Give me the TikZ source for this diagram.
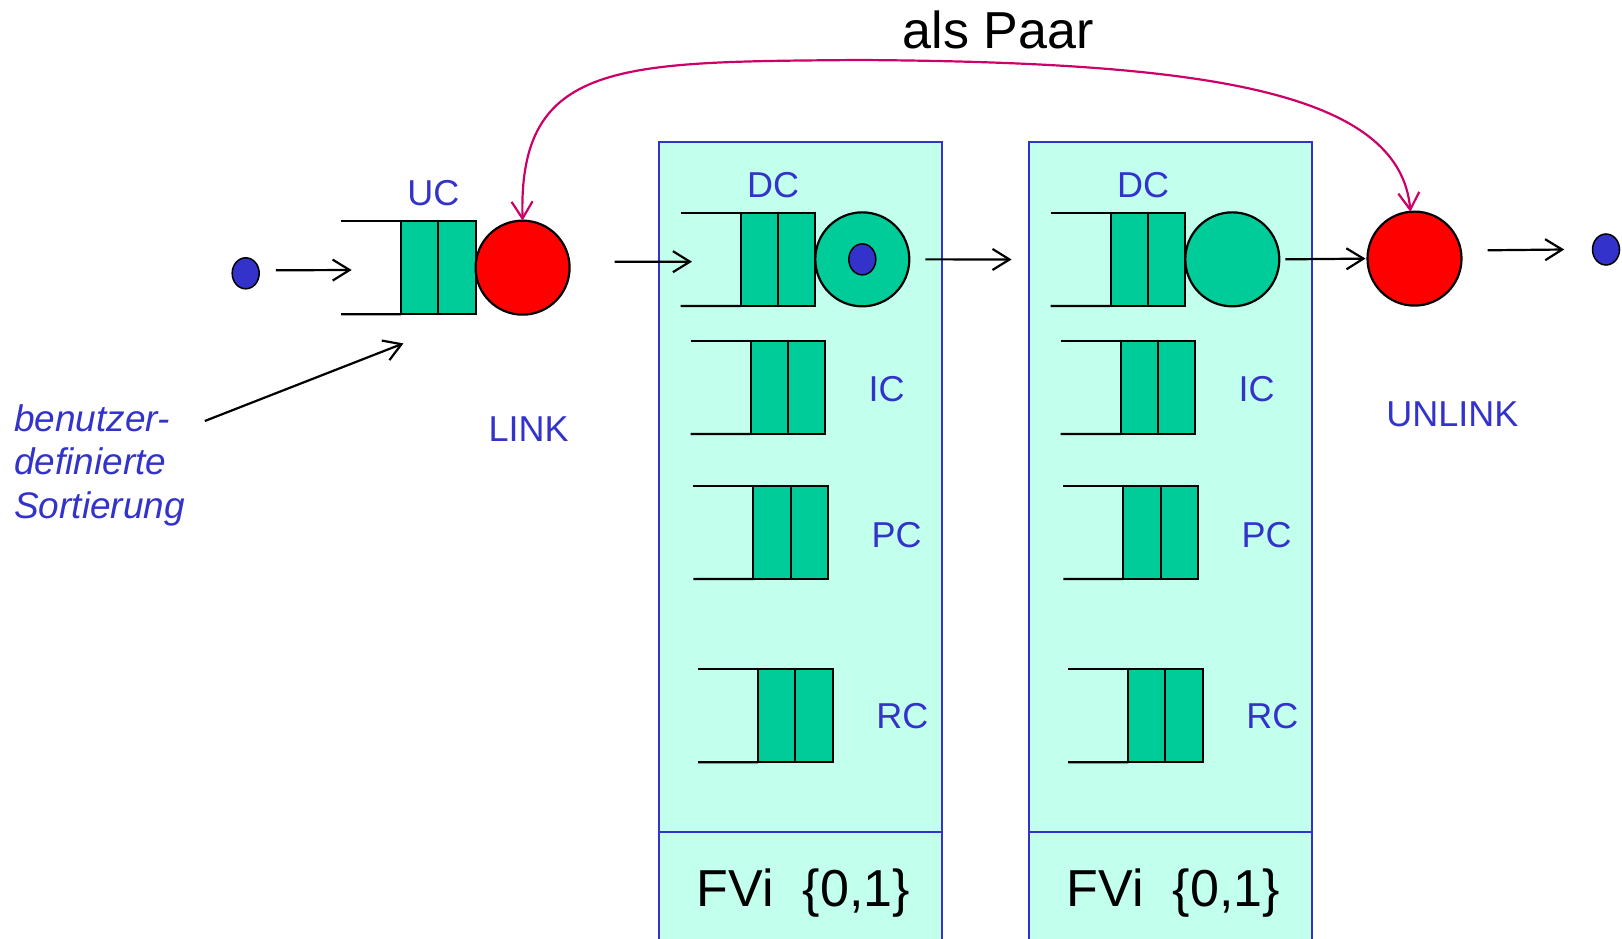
\documentclass[tikz,border=0pt]{standalone}
\usepackage{fontspec}
\setmainfont{Liberation Sans}
\usetikzlibrary{arrows.meta,shapes.geometric}

\definecolor{qgreen}{RGB}{0,204,153}
\definecolor{panefill}{RGB}{194,255,236}
\definecolor{ink}{RGB}{51,51,204}
\definecolor{pairpink}{RGB}{204,0,102}

% a waiting queue: two open rails and two filled cells
% #1 name prefix, #2 left x, #3 top y
\newcommand{\waitq}[3]{%
  \coordinate (#1-t) at ({#2},{#3});
  \coordinate (#1-b) at ({#2},{#3+93.3});
  \node[cell, anchor=north west] (#1-a) at ({#2+60},{#3}) {};
  \node[cell, anchor=north west] (#1-c) at (#1-a.north east) {};
  \draw[qline] (#1-t) -- (#1-a.north west);
  \draw[qline] (#1-b) -- (#1-a.south west);
}

\begin{document}
\begin{tikzpicture}[x=1pt,y=-1pt,
  cell/.style={draw=black, line width=2.2pt, fill=qgreen, minimum width=37.3pt,
    minimum height=93.3pt, inner sep=0pt, outer sep=0pt},
  qline/.style={draw=black, line width=2.2pt},
  server/.style={circle, draw=black, line width=2.2pt, minimum size=94pt,
    inner sep=0pt, outer sep=0pt},
  token/.style={ellipse, draw=black, line width=1.5pt, fill=ink,
    minimum width=27pt, minimum height=31pt, inner sep=0pt},
  pane/.style={draw=ink, line width=2pt, fill=panefill, inner sep=0pt, outer sep=0pt},
  flow/.style={draw=black, line width=2.2pt, -{Straight Barb[length=17pt,width=21pt]}},
  pair/.style={draw=pairpink, line width=2.2pt,
    {Straight Barb[length=17pt,width=21pt]}-{Straight Barb[length=17pt,width=21pt]}},
  lbl/.style={text=ink, font=\fontsize{36}{43}\selectfont, inner sep=0pt, anchor=base},
  big/.style={text=black, font=\fontsize{52}{60}\selectfont, inner sep=0pt, anchor=base},
  note/.style={text=ink, font=\fontsize{37}{43}\selectfont\itshape, inner sep=0pt, anchor=base west}
]
\useasboundingbox (0,0) rectangle (1622,939);
\clip (0,0) rectangle (1622,939);
\fill[white] (0,0) rectangle (1622,939);

% the two FVi panes
\node[pane, anchor=north west, minimum width=282.5pt, minimum height=820pt] (pane1) at (659,142) {};
\node[pane, anchor=north west, minimum width=282.5pt, minimum height=820pt] (pane2) at (1029,142) {};
\draw[draw=ink, line width=2pt] (659,832) -- (941.5,832);
\draw[draw=ink, line width=2pt] (1029,832) -- (1311.5,832);
\node[big] (fvi1) at (803.3,906) {FVi~~\{0,1\}};
\node[big] (fvi2) at (1173.3,906) {FVi~~\{0,1\}};

% queues
\waitq{uc}{341}{221}
\waitq{dc1}{680.7}{212.7}
\waitq{ic1}{690.7}{340.7}
\waitq{pc1}{693.3}{485.7}
\waitq{rc1}{698}{669}
\waitq{dc2}{1050.7}{212.7}
\waitq{ic2}{1060.7}{340.7}
\waitq{pc2}{1063.3}{485.7}
\waitq{rc2}{1068}{669}

% servers
\node[server, fill=red, anchor=west] (link) at (uc-c.east) {};
\node[server, fill=qgreen, anchor=west] (srv1) at (dc1-c.east) {};
\node[server, fill=qgreen, anchor=west] (srv2) at (dc2-c.east) {};
\node[server, fill=red] (unlink) at (1414.5,258.6) {};

% tokens
\node[token] (src) at (245.7,273.3) {};
\node[token] (busy) at (srv1.center) {};
\node[token] (sink) at (1606,249.5) {};

% labels
\node[lbl] (uclbl) at (433.4,205.3) {UC};
\node[lbl] (dclbl1) at (773,197.8) {DC};
\node[lbl] (dclbl2) at (1143,197.8) {DC};
\node[lbl] (iclbl1) at (886.7,401) {IC};
\node[lbl] (iclbl2) at (1256.7,401) {IC};
\node[lbl] (pclbl1) at (896.7,547.3) {PC};
\node[lbl] (pclbl2) at (1266.7,547.3) {PC};
\node[lbl] (rclbl1) at (902.3,728.7) {RC};
\node[lbl] (rclbl2) at (1272.3,728.7) {RC};
\node[lbl] (linklbl) at (528.6,441) {LINK};
\node[lbl] (unlinklbl) at (1452.3,426.7) {UNLINK};
\node[big] (pairlbl) at (998,48.5) {als Paar};
\node[note] (note1) at (14,431) {benutzer-};
\node[note] (note2) at (14,474.5) {definierte};
\node[note] (note3) at (14,518) {Sortierung};

% flow arrows
\coordinate (ucin) at (351.7,270);
\coordinate (in1) at (692,261.7);
\coordinate (in2) at (1011.6,259.5);
\coordinate (sortfrom) at (204.8,421);
\coordinate (sortto) at (403.4,343.4);
\draw[flow] ([xshift=16pt,yshift=3pt]src.east) -- (ucin);
\draw[flow] ([xshift=45pt,yshift=6pt]link.east) -- (in1);
\draw[flow] ([xshift=16pt]srv1.east) -- (in2);
\draw[flow, shorten >=2pt] ([xshift=6pt]srv2.east) -- (unlink.west);
\draw[flow] ([xshift=26pt,yshift=8.3pt]unlink.east) -- ([xshift=-27.5pt]sink.west);
\draw[flow] (sortfrom) -- (sortto);

% the LINK/UNLINK pair
\draw[pair] (link.north) .. controls (518,60) and (620,62) .. (858,60)
  .. controls (1200,62) and (1400,90) .. (unlink.95);
\end{tikzpicture}
\end{document}
